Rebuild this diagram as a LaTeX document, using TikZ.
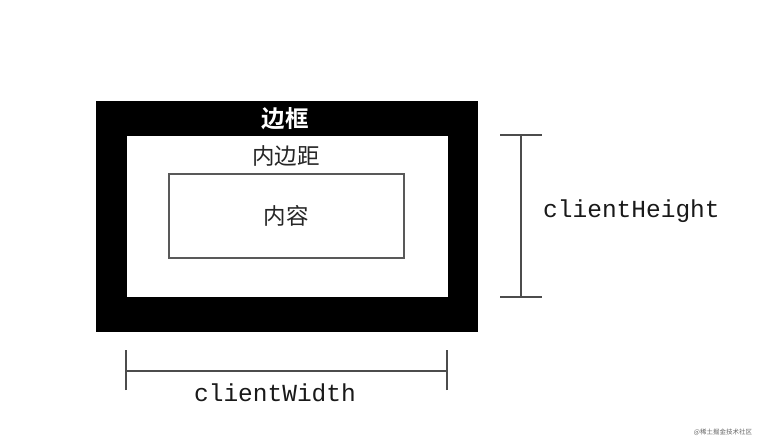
\documentclass[tikz,border=0pt]{standalone}
\usepackage{fontspec}
\newfontfamily\cjk{Noto Sans CJK SC}
\newfontfamily\cjkb{Noto Sans CJK SC Bold}
\newfontfamily\mono{Liberation Mono}
\begin{document}
\begin{tikzpicture}[x=1pt,y=-1pt,
  box/.style={inner sep=0pt, outer sep=0pt},
  dimline/.style={draw=black!70, line width=1.3pt},
  cjklabel/.style={font=\cjk\fontsize{22.5}{24}\selectfont, text=black!85, inner sep=0pt},
  monolabel/.style={font=\mono\fontsize{24.5}{26}\selectfont, text=black!90, inner sep=0pt}]
\useasboundingbox[fill=white] (0,0) rectangle (758,444);
% border box
\node[box, fill=black, minimum width=382pt, minimum height=231pt] (border) at (287,216.5) {};
\node[box, fill=white, minimum width=321pt, minimum height=161pt] (padding) at (287.5,216.5) {};
\node[box, fill=white, draw=black!65, line width=1.1pt, minimum width=235pt, minimum height=84pt] (content) at (286.5,216) {};
% labels
\node[font=\cjkb\fontsize{23.5}{25}\selectfont, text=white, inner sep=0pt] (tborder) at (285,119) {边框};
\node[cjklabel] (tpadding) at (286,156) {内边距};
\node[cjklabel] (tcontent) at (286,216) {内容};
% clientHeight
\coordinate (h1) at (521,135);
\coordinate (h2) at (521,297);
\draw[dimline] (h1) -- (h2);
\draw[dimline] ([xshift=-21pt]h1) -- ([xshift=21pt]h1);
\draw[dimline] ([xshift=-21pt]h2) -- ([xshift=21pt]h2);
\node[monolabel, anchor=west] (theight) at (543,211) {clientHeight};
% clientWidth
\coordinate (w1) at (126,371);
\coordinate (w2) at (447,371);
\draw[dimline] (w1) -- (w2);
\draw[dimline] ([yshift=-19pt]w1) -- ([yshift=21pt]w1);
\draw[dimline] ([yshift=-19pt]w2) -- ([yshift=21pt]w2);
\node[monolabel] (twidth) at (275,393) {clientWidth};
% watermark
\node[font=\cjk\fontsize{6.5}{7}\selectfont, text=black!60, inner sep=0pt] (wm) at (723,432) {@稀土掘金技术社区};
\end{tikzpicture}
\end{document}
